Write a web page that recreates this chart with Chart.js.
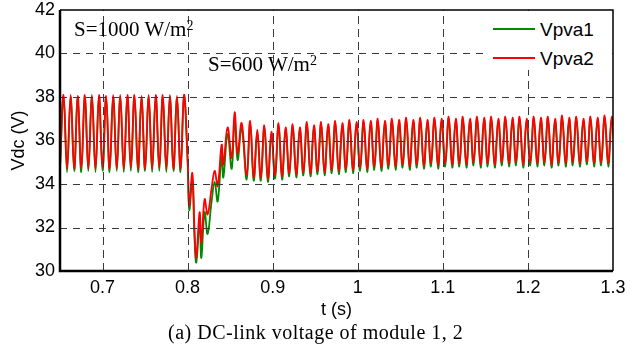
<!DOCTYPE html>
<html><head><meta charset="utf-8">
<script src="https://cdn.jsdelivr.net/npm/chart.js@4.4.0/dist/chart.umd.min.js"></script>
<style>
html,body{margin:0;padding:0;background:#fff;}
#wrap{position:relative;width:643px;height:354px;overflow:hidden;}
#c{position:absolute;left:0;top:0;}
.ser{position:absolute;font-family:"Liberation Serif","Times New Roman",serif;color:#000;white-space:nowrap;line-height:1;}
.sup{position:relative;font-size:14px;top:-6px;}
#legend{position:absolute;left:483px;top:11px;width:129px;height:59px;background:#fff;}
.lgline{position:absolute;left:10px;width:42px;height:1.5px;}
.lgtxt{position:absolute;left:57px;font-family:"Liberation Sans",Arial,sans-serif;font-size:19px;line-height:1;color:#000;}
</style></head>
<body>
<div id="wrap">
<canvas id="c" width="643" height="354"></canvas>
<div class="ser" style="left:74px;top:19px;font-size:21px;">S=1000 W/m<span class="sup">2</span></div>
<div class="ser" style="left:208px;top:54px;font-size:21px;">S=600 W/m<span class="sup">2</span></div>
<div id="legend"></div>
<div class="ser" style="left:168px;top:322px;font-size:20px;letter-spacing:0.5px;">(a) DC-link voltage of module 1, 2</div>
</div>
<script>
// time (s)
const tTime = [
0.6500,0.6542,0.6583,0.6625,0.6667,0.6708,0.6750,0.6792,0.6833,0.6875,0.6917,0.6958,
0.7000,0.7042,0.7083,0.7125,0.7167,0.7208,0.7250,0.7292,0.7333,0.7375,0.7417,0.7458,
0.7500,0.7542,0.7583,0.7625,0.7667,0.7708,0.7750,0.7792,0.7833,0.7875,0.7917,0.7958,
0.8000,0.8020,0.8055,0.8082,0.8102,0.8141,0.8161,0.8200,0.8235,0.8282,
0.8318,0.8353,0.8400,0.8420,0.8470,0.8518,0.8553,0.8588,0.8635,0.8694,
0.8735,0.8777,0.8819,0.8860,0.8902,0.8944,0.8985,0.9027,0.9069,0.9110,0.9152,0.9194,
0.9235,0.9277,0.9319,0.9360,0.9402,0.9444,0.9485,0.9527,0.9569,0.9610,0.9652,0.9694,
0.9735,0.9777,0.9819,0.9860,0.9902,0.9944,0.9985,1.0027,1.0069,1.0110,1.0152,1.0194,
1.0235,1.0277,1.0319,1.0360,1.0402,1.0444,1.0485,1.0527,1.0569,1.0610,1.0652,1.0694,
1.0735,1.0777,1.0819,1.0860,1.0902,1.0944,1.0985,1.1027,1.1069,1.1110,1.1152,1.1194,
1.1235,1.1277,1.1319,1.1360,1.1402,1.1444,1.1485,1.1527,1.1569,1.1610,1.1652,1.1694,
1.1735,1.1777,1.1819,1.1860,1.1902,1.1944,1.1985,1.2027,1.2069,1.2110,1.2152,1.2194,
1.2235,1.2277,1.2319,1.2360,1.2402,1.2444,1.2485,1.2527,1.2569,1.2610,1.2652,1.2694,
1.2735,1.2777,1.2819,1.2860,1.2902,1.2944,1.2985,1.3027
];
// Vpva1 (green)
const vpva1 = [
34.7,38.0,34.55,38.0,34.6,37.95,34.55,38.0,34.6,38.0,34.55,38.0,
34.6,37.95,34.55,38.0,34.6,38.0,34.55,38.0,34.6,38.0,34.55,37.95,
34.6,38.0,34.55,38.0,34.6,38.0,34.55,38.0,34.6,37.95,34.55,38.0,
35.0,32.8,34.2,31.4,30.4,32.3,30.6,32.7,31.7,33.2,
34.1,33.2,35.3,34.3,36.3,34.7,37.0,35.1,36.6,34.2,
36.8,34.15,36.4,34.15,36.6,34.1,36.3,34.25,36.7,34.2,36.5,34.35,
36.65,34.3,36.5,34.4,36.75,34.35,36.6,34.45,36.75,34.4,36.65,34.5,
36.8,34.45,36.7,34.55,36.85,34.5,36.75,34.6,36.85,34.55,36.8,34.65,
36.9,34.6,36.8,34.7,36.9,34.65,36.85,34.75,36.95,34.65,36.85,34.75,
36.95,34.7,36.85,34.8,36.95,34.7,36.9,34.8,37.0,34.75,36.9,34.8,
37.0,34.75,36.9,34.85,37.0,34.75,36.95,34.8,37.0,34.75,36.9,34.85,
37.0,34.8,36.95,34.85,37.0,34.75,36.9,34.85,37.0,34.8,36.95,34.85,
37.0,34.75,36.9,34.85,37.05,34.8,36.95,34.85,37.0,34.8,36.9,34.9,
37.0,34.8,36.95,34.85,37.05,34.8,37.0,34.85
];
// Vpva2 (red)
const vpva2 = [
34.8,38.1,34.7,38.1,34.7,38.05,34.75,38.1,34.7,38.1,34.7,38.1,
34.75,38.05,34.7,38.1,34.7,38.1,34.7,38.1,34.75,38.1,34.7,38.05,
34.7,38.1,34.7,38.1,34.75,38.1,34.7,38.1,34.7,38.05,34.7,38.1,
35.2,33.0,34.5,31.8,30.6,32.7,31.3,33.3,32.6,33.8,
34.6,33.9,35.8,34.9,36.6,35.2,37.3,35.4,36.8,34.4,
36.9,34.3,36.5,34.3,36.7,34.25,36.4,34.4,36.8,34.35,36.6,34.5,
36.75,34.45,36.6,34.55,36.85,34.5,36.7,34.6,36.85,34.55,36.75,34.65,
36.9,34.6,36.8,34.7,36.95,34.65,36.85,34.75,36.95,34.7,36.9,34.8,
37.0,34.75,36.9,34.85,37.0,34.8,36.95,34.9,37.05,34.8,36.95,34.9,
37.05,34.85,36.95,34.95,37.05,34.85,37.0,34.95,37.1,34.9,37.0,34.95,
37.1,34.9,37.0,35.0,37.1,34.9,37.05,34.95,37.1,34.9,37.0,35.0,
37.1,34.95,37.05,35.0,37.1,34.9,37.0,35.0,37.1,34.95,37.05,35.0,
37.1,34.9,37.0,35.0,37.15,34.95,37.05,35.0,37.1,34.95,37.0,35.05,
37.1,34.95,37.05,35.0,37.15,34.95,37.1,35.0
];
const seriesNames = ['Vpva1','Vpva2'];
const seriesColors = ['#008a00','#ff0000'];
const xTickValues = [0.7,0.8,0.9,1.0,1.1,1.2,1.3];
const xTickLabels = ['0.7','0.8','0.9','1','1.1','1.2','1.3'];
const yTickValues = [30,32,34,36,38,40,42];
const yTickLabels = ['30','32','34','36','38','40','42'];
const xTitle = 't (s)';
const yTitle = 'Vdc (V)';

const gridFrame = {
  id:'gridFrame',
  afterDatasetsDraw(chart){
    const {ctx, chartArea:a, scales:{x,y}} = chart;
    ctx.save();
    ctx.strokeStyle = '#3a3a3a';
    ctx.lineWidth = 1;
    ctx.setLineDash([8,5]);
    xTickValues.forEach(v=>{
      if (v <= x.min + 1e-9 || v >= x.max - 1e-9) return;
      const px = Math.round(x.getPixelForValue(v)) + 0.5;
      ctx.beginPath(); ctx.moveTo(px, a.bottom); ctx.lineTo(px, a.top); ctx.stroke();
    });
    ctx.setLineDash([7,6]);
    yTickValues.forEach(v=>{
      if (v <= y.min + 1e-9 || v >= y.max - 1e-9) return;
      const py = Math.round(y.getPixelForValue(v)) + 0.5;
      ctx.beginPath(); ctx.moveTo(a.left, py); ctx.lineTo(a.right, py); ctx.stroke();
    });
    ctx.setLineDash([]);
    ctx.strokeStyle = '#000';
    ctx.lineWidth = 1.5;
    ctx.beginPath();
    ctx.moveTo(a.left, a.top); ctx.lineTo(a.right, a.top); ctx.lineTo(a.right, a.bottom);
    ctx.stroke();
    ctx.lineWidth = 2.5;
    ctx.beginPath();
    ctx.moveTo(a.left, a.top); ctx.lineTo(a.left, a.bottom); ctx.lineTo(a.right, a.bottom);
    ctx.stroke();
    ctx.restore();
  }
};

const tickFont = {family:'"Liberation Sans", Arial, sans-serif', size:18};

const chart = new Chart(document.getElementById('c'), {
  type:'line',
  data:{
    datasets:[
      {label:seriesNames[1], data:tTime.map((t,i)=>({x:t,y:vpva2[i]})), borderColor:seriesColors[1], order:0},
      {label:seriesNames[0], data:tTime.map((t,i)=>({x:t,y:vpva1[i]})), borderColor:seriesColors[0], order:1}
    ]
  },
  options:{
    responsive:false, animation:false,
    layout:{padding:{left:0,right:30,top:10,bottom:0}},
    elements:{point:{radius:0}, line:{tension:0.4, borderWidth:1.8, fill:false}},
    plugins:{legend:{display:false}, tooltip:{enabled:false}},
    scales:{
      x:{
        type:'linear', min:0.65, max:1.3,
        afterBuildTicks:s=>{ s.ticks = xTickValues.map(v=>({value:v})); },
        afterFit:s=>{ s.height = 83; s.paddingLeft = 0; s.paddingRight = 0; },
        grid:{display:false, drawTicks:false},
        border:{display:false},
        ticks:{padding:6, color:'#000', font:tickFont, maxRotation:0, autoSkip:false,
          callback:(v,i)=>xTickLabels[i]},
        title:{display:true, text:xTitle, color:'#000', font:tickFont, padding:{top:0,bottom:33}}
      },
      y:{
        type:'linear', min:30, max:42,
        afterBuildTicks:s=>{ s.ticks = yTickValues.map(v=>({value:v})); },
        afterFit:s=>{ s.width = 60; s.paddingTop = 0; s.paddingBottom = 0; },
        grid:{display:false, drawTicks:false},
        border:{display:false},
        ticks:{padding:5, color:'#000', font:tickFont, autoSkip:false,
          callback:(v,i)=>yTickLabels[i]},
        title:{display:true, text:yTitle, color:'#000', font:tickFont, padding:{top:8,bottom:0}}
      }
    }
  },
  plugins:[gridFrame]
});

// legend from series names/colours
const lg = document.getElementById('legend');
[[0,17],[1,46]].forEach(([i,yy])=>{
  const ln = document.createElement('div');
  ln.className='lgline'; ln.style.top=yy+'px'; ln.style.background=seriesColors[i];
  lg.appendChild(ln);
  const tx = document.createElement('div');
  tx.className='lgtxt'; tx.style.top=(yy-8)+'px'; tx.textContent=seriesNames[i];
  lg.appendChild(tx);
});
</script>
</body></html>
